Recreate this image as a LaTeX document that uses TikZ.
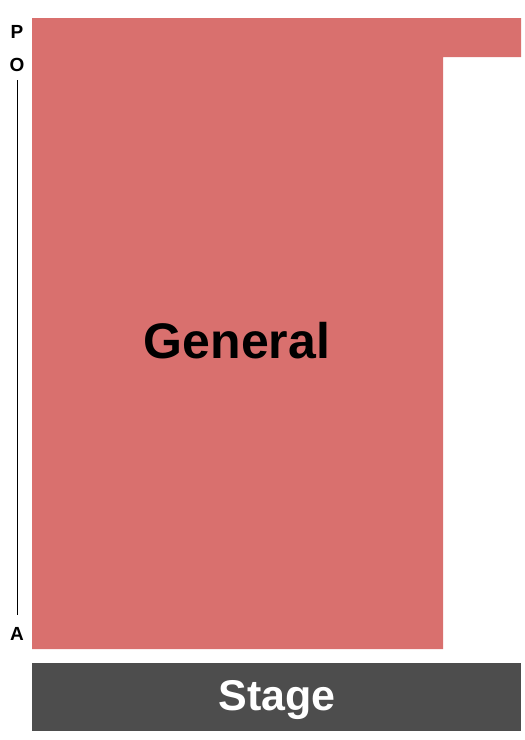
\documentclass[tikz,border=0pt]{standalone}
\usepackage{fontspec}
\setmainfont{Liberation Sans}
\usepackage{xcolor}
\definecolor{seatred}{HTML}{D9706E}
\definecolor{stagegray}{HTML}{4D4D4D}
\tikzset{
  rowlabel/.style={font=\bfseries\fontsize{19}{21}\selectfont, text=black, inner sep=0pt},
}
\begin{document}
\begin{tikzpicture}[x=1pt, y=-1pt]
        \useasboundingbox (0, 0) rectangle (525, 740);
        % general admission block
        \fill[seatred] (32, 18) -- (521, 18) -- (521, 57) -- (443, 57)
            -- (443, 649) -- (32, 649) -- cycle;
        \node[font=\bfseries\fontsize{50}{56}\selectfont] (general) at (237, 341) {General};
        % stage
        \fill[stagegray] (32, 663) rectangle (521, 731);
        \node[font=\bfseries\fontsize{43}{48}\selectfont, text=white] (stage) at (277, 700) {Stage};
        % row labels
        \node[rowlabel] (p) at (17, 32) {P};
        \node[rowlabel] (o) at (17, 65) {O};
        \node[rowlabel] (a) at (17, 634) {A};
        \coordinate (top) at (17, 80);
        \coordinate (bottom) at (17, 615);
        \draw[line width=1pt] (top) -- (bottom);
\end{tikzpicture}
\end{document}
